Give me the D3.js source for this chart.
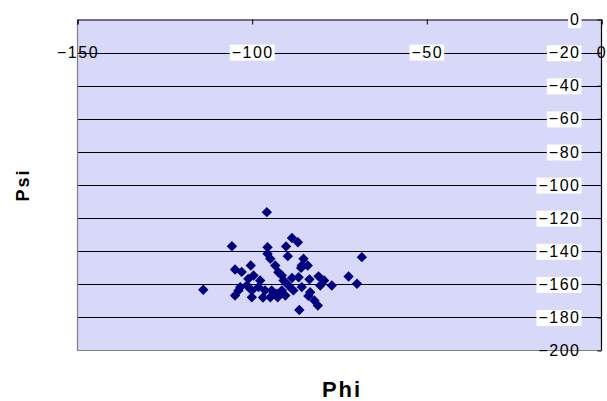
<!DOCTYPE html>
<html>
<head>
<meta charset="utf-8">
<script src="https://cdn.jsdelivr.net/npm/d3@7"></script>
<style>
  html, body { margin: 0; padding: 0; background: #fff; }
  svg { display: block; }
</style>
</head>
<body>
<svg id="chart" width="607" height="401"></svg>
<script>
// Backbone dihedral angles (degrees)
const phi = [
  -95.8, -105.8, -95.6, -104.9, -100.4, -114.0, -104.9, -103.4, -101.1, -100.1,
  -96.9, -94.8, -92.7, -90.5, -98.2, -94.8, -95.6, -93.4, -92.5, -91.0,
  -88.6, -86.9, -90.3, -89.8, -85.3, -84.1, -86.0, -81.0, -79.4, -77.2,
  -80.5, -88.6, -89.6, -91.5, -88.2, -83.9, -82.2, -81.2, -86.5, -68.6,
  -72.4, -70.0, -92.9, -103.0, -99.6, -101.5, -100.1, -103.9, -96.3, -94.4,
  -97.7, -91.5, -86.7, -85.8, -83.4, -85.8, -83.6
];
const psi = [
  -116.4, -137.0, -137.6, -151.1, -148.6, -163.3, -166.8, -161.7, -156.7, -167.8,
  -168.0, -167.8, -167.8, -166.8, -161.7, -144.6, -141.6, -148.6, -152.7, -157.7,
  -132.0, -134.6, -137.1, -143.0, -144.6, -148.6, -150.1, -155.2, -157.7, -160.7,
  -160.7, -156.2, -160.7, -163.7, -163.7, -167.0, -169.8, -172.8, -175.5, -143.6,
  -155.3, -159.7, -165.7, -152.5, -154.7, -160.7, -163.7, -163.7, -163.7, -163.7,
  -157.7, -154.7, -155.7, -161.7, -164.8, -148.6, -157.0
];
const xTicks = [-150, -100, -50, 0];
const yTicks = [0, -20, -40, -60, -80, -100, -120, -140, -160, -180, -200];
const xTitle = "Phi";
const yTitle = "Psi";

const svg = d3.select("#chart");
const plotL = 77.5, plotR = 601.5, plotT = 19.5, plotB = 350.5;

const x = d3.scaleLinear().domain([-150, 0]).range([plotL, plotR]);
const y = d3.scaleLinear().domain([-200, 0]).range([plotB, plotT]);

const labelFont = "'Liberation Sans', Arial, sans-serif";

// plot area
svg.append("rect")
  .attr("x", plotL).attr("y", plotT)
  .attr("width", plotR - plotL).attr("height", plotB - plotT)
  .attr("fill", "#d8d8f9");

// horizontal gridlines
svg.append("g")
  .selectAll("line")
  .data(yTicks.filter(d => d !== 0 && d !== -200))
  .join("line")
  .attr("x1", plotL).attr("x2", plotR)
  .attr("y1", d => Math.round(y(d)) + 0.5).attr("y2", d => Math.round(y(d)) + 0.5)
  .attr("stroke", "#000").attr("stroke-width", 1.2);

// gray frame on left and bottom
svg.append("path")
  .attr("d", `M${plotL},${plotT}V${plotB}H${plotR}`)
  .attr("fill", "none").attr("stroke", "#808080").attr("stroke-width", 1.2);

// x axis along psi = 0 (top), ticks pointing into the plot
const xAxis = d3.axisBottom(x).tickValues(xTicks).tickSize(5).tickPadding(24)
  .tickFormat(d3.format("d"));
const gx = svg.append("g").attr("transform", `translate(0,${plotT})`).call(xAxis);
gx.select(".domain").attr("stroke", "#000");
gx.selectAll(".tick line").attr("stroke", "#000");
gx.selectAll(".tick text")
  .attr("font-family", labelFont).attr("font-size", 16)
  .attr("letter-spacing", "1.5px").attr("fill", "#000")
  .attr("dy", "0.32em").attr("y", 33);

// y axis along phi = 0 (right)
const yAxis = d3.axisLeft(y).tickValues(yTicks).tickSize(4).tickPadding(17)
  .tickFormat(d3.format("d"));
const gy = svg.append("g").attr("transform", `translate(${plotR},0)`).call(yAxis);
gy.select(".domain").remove();
gy.selectAll(".tick line").attr("stroke", "#000");
gy.selectAll(".tick text")
  .attr("font-family", labelFont).attr("font-size", 16)
  .attr("letter-spacing", "1.5px").attr("fill", "#000");

// white backing boxes behind the inner tick labels
function boxLabels(g, skip) {
  g.selectAll(".tick").each(function (d) {
    if (skip.includes(d)) return;
    const t = d3.select(this).select("text");
    const b = t.node().getBBox();
    d3.select(this).insert("rect", "text")
      .attr("x", b.x - 2).attr("y", b.y + 1)
      .attr("width", b.width + 3).attr("height", b.height - 1)
      .attr("fill", "#fff");
  });
}
boxLabels(gx, [-150, 0]);
boxLabels(gy, [-200]);

// y axis line (right edge), drawn over the labels
svg.append("line")
  .attr("x1", plotR).attr("x2", plotR).attr("y1", plotT).attr("y2", plotB)
  .attr("stroke", "#000").attr("stroke-width", 1.2);

// data points as navy diamonds
const pts = phi.map((p, i) => ({ phi: p, psi: psi[i] }));
const diamond = d3.symbol(d3.symbolSquare, 54);
svg.append("g")
  .selectAll("path")
  .data(pts)
  .join("path")
  .attr("d", diamond)
  .attr("transform", d => `translate(${x(d.phi)},${y(d.psi)}) rotate(45)`)
  .attr("fill", "#000080");

// axis titles
svg.append("text")
  .attr("x", 342).attr("y", 397)
  .attr("text-anchor", "middle")
  .attr("font-family", labelFont).attr("font-weight", "bold")
  .attr("font-size", 22).attr("letter-spacing", "2px")
  .text(xTitle);

svg.append("text")
  .attr("transform", "translate(29,185) rotate(-90)")
  .attr("text-anchor", "middle")
  .attr("font-family", labelFont).attr("font-weight", "bold")
  .attr("font-size", 18).attr("letter-spacing", "2px")
  .text(yTitle);
</script>
</body>
</html>
